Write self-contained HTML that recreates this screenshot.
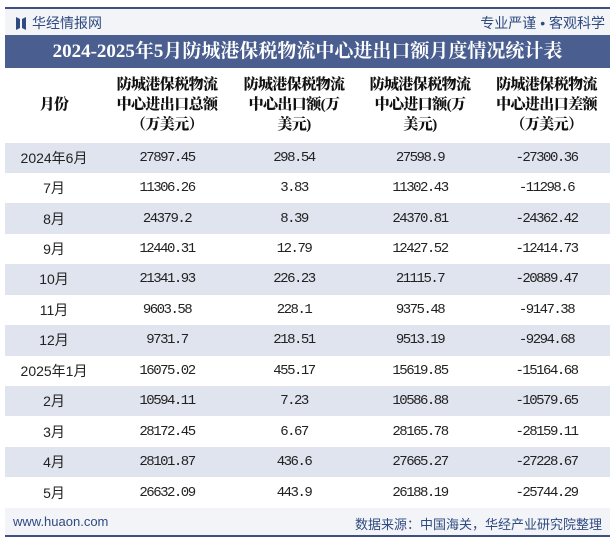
<!DOCTYPE html>
<html><head><meta charset="utf-8">
<style>
*{margin:0;padding:0;box-sizing:border-box}
body{width:615px;height:540px;background:#fff;position:relative;overflow:hidden;font-family:"Liberation Sans","Noto Sans CJK SC",sans-serif}
.topline{position:absolute;left:5px;top:7px;width:605px;height:2px;background:#3d5080}
.hdr{position:absolute;left:5px;top:9px;width:605px;height:26px;background:#f2f4f8}
.logo{position:absolute;left:16px;top:13px;font-size:14px;color:#2f4a80}
.slogan{position:absolute;right:10px;top:13px;font-size:14px;color:#2f4a80}
.title{position:absolute;left:5px;top:35px;width:605px;height:33px;background:#4a5f8f;color:#fff;font:bold 19px "Liberation Serif","Noto Serif CJK SC",serif;text-align:center;line-height:33px}
table{position:absolute;left:5px;top:68px;width:605px;border-collapse:collapse}
th{height:74.5px;font:900 15px/20px "Liberation Serif","Noto Serif CJK SC",serif;color:#111;text-align:center;white-space:nowrap;letter-spacing:-0.6px}
td{height:30.45px;text-align:center;font:14px "Liberation Mono","Noto Serif CJK SC",monospace;color:#222;letter-spacing:-1.5px}
td:first-child{font-family:"Liberation Sans","Noto Sans CJK SC",sans-serif;letter-spacing:0;font-size:14px}
tr.s td{background:#dfe4ee}
.foot{position:absolute;left:5px;top:508px;width:605px;height:27px;background:#f2f4f8}
.fl{position:absolute;left:13px;top:514px;font-size:13px;color:#2f4a80}
.fr{position:absolute;right:13px;top:514px;font-size:13px;color:#2f4a80}
.botline{position:absolute;left:5px;top:535px;width:605px;height:2px;background:#3d5080}
</style></head><body>
<div class="topline"></div>
<div class="hdr"></div>
<div class="logo"><span style="display:inline-block;width:10px;height:13px;background:#2f4a80;vertical-align:-2px;margin-right:6px;clip-path:polygon(0 0,40% 15%,40% 85%,0 100%,0 0,100% 0,100% 100%,60% 85%,60% 15%,100% 0)"></span>华经情报网</div>
<div class="slogan">专业严谨 • 客观科学</div>
<div class="title">2024-2025年5月防城港保税物流中心进出口额月度情况统计表</div>
<table>
<colgroup><col style="width:98px"><col style="width:128px"><col style="width:126px"><col style="width:126px"><col style="width:127px"></colgroup>
<thead><tr>
<th>月份</th>
<th>防城港保税物流<br>中心进出口总额<br>（万美元）</th>
<th>防城港保税物流<br>中心出口额(万<br>美元)</th>
<th>防城港保税物流<br>中心进口额(万<br>美元)</th>
<th>防城港保税物流<br>中心进出口差额<br>（万美元）</th>
</tr></thead>
<tbody id="tb"></tbody>
</table>
<div class="foot"></div>
<div class="fl">www.huaon.com</div>
<div class="fr">数据来源：中国海关，华经产业研究院整理</div>
<div class="botline"></div>
<script>
const months=["2024年6月","7月","8月","9月","10月","11月","12月","2025年1月","2月","3月","4月","5月"];
const totals=["27897.45","11306.26","24379.2","12440.31","21341.93","9603.58","9731.7","16075.02","10594.11","28172.45","28101.87","26632.09"];
const exportsV=["298.54","3.83","8.39","12.79","226.23","228.1","218.51","455.17","7.23","6.67","436.6","443.9"];
const importsV=["27598.9","11302.43","24370.81","12427.52","21115.7","9375.48","9513.19","15619.85","10586.88","28165.78","27665.27","26188.19"];
const balances=["-27300.36","-11298.6","-24362.42","-12414.73","-20889.47","-9147.38","-9294.68","-15164.68","-10579.65","-28159.11","-27228.67","-25744.29"];
const tb=document.getElementById('tb');
months.forEach((m,i)=>{
  const tr=document.createElement('tr');
  if(i%2===0)tr.className='s';
  
  
  [m,totals[i],exportsV[i],importsV[i],balances[i]].forEach((v,j)=>{
    const td=document.createElement('td');
    td.textContent=v;
    
    
    tr.appendChild(td);
  });
  tb.appendChild(tr);
});
</script>
</body></html>
